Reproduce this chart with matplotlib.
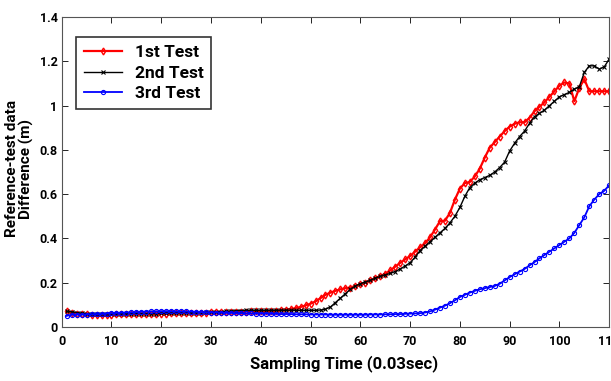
import matplotlib
matplotlib.use("Agg")
import matplotlib.pyplot as plt

plt.rcParams['font.family'] = ['Roboto', 'DejaVu Sans']

samples = list(range(1, 111))

test1 = [0.070,0.065,0.060,0.060,0.058,0.055,0.055,0.052,0.055,0.055,
 0.057,0.057,0.058,0.058,0.058,0.060,0.060,0.060,0.060,0.060,
 0.060,0.061,0.062,0.062,0.063,0.063,0.064,0.065,0.065,0.066,
 0.066,0.067,0.067,0.068,0.068,0.069,0.069,0.070,0.070,0.071,
 0.072,0.073,0.074,0.076,0.078,0.080,0.085,0.090,0.097,0.105,
 0.115,0.130,0.145,0.155,0.163,0.170,0.175,0.178,0.185,0.192,
 0.200,0.210,0.220,0.230,0.240,0.255,0.272,0.289,0.305,0.320,
 0.340,0.360,0.378,0.405,0.440,0.478,0.480,0.515,0.575,0.625,
 0.650,0.655,0.680,0.715,0.765,0.810,0.835,0.860,0.885,0.905,
 0.918,0.925,0.925,0.945,0.975,0.995,1.015,1.040,1.065,1.090,
 1.105,1.100,1.020,1.080,1.120,1.065,1.065,1.065,1.065,1.065]

test2 = [0.070,0.068,0.065,0.062,0.060,0.060,0.060,0.060,0.060,0.060,
 0.060,0.060,0.060,0.060,0.060,0.060,0.060,0.060,0.060,0.061,
 0.062,0.062,0.063,0.063,0.064,0.064,0.065,0.065,0.066,0.066,
 0.068,0.069,0.070,0.072,0.073,0.074,0.075,0.075,0.075,0.075,
 0.075,0.075,0.075,0.075,0.075,0.075,0.075,0.075,0.075,0.075,
 0.075,0.076,0.080,0.090,0.110,0.130,0.150,0.170,0.185,0.195,
 0.203,0.210,0.220,0.228,0.235,0.242,0.250,0.262,0.275,0.290,
 0.315,0.345,0.365,0.385,0.405,0.425,0.445,0.470,0.500,0.540,
 0.590,0.630,0.650,0.665,0.675,0.685,0.700,0.720,0.745,0.795,
 0.830,0.860,0.885,0.920,0.950,0.965,0.980,1.000,1.020,1.040,
 1.050,1.060,1.075,1.085,1.150,1.180,1.180,1.165,1.175,1.210]

test3 = [0.050,0.055,0.055,0.055,0.056,0.057,0.058,0.058,0.060,0.062,
 0.063,0.064,0.065,0.066,0.067,0.068,0.069,0.070,0.070,0.071,
 0.071,0.071,0.070,0.070,0.070,0.069,0.068,0.067,0.066,0.065,
 0.065,0.064,0.063,0.063,0.062,0.062,0.061,0.061,0.060,0.060,
 0.060,0.059,0.059,0.058,0.058,0.058,0.057,0.057,0.057,0.056,
 0.056,0.056,0.056,0.055,0.055,0.055,0.055,0.055,0.055,0.055,
 0.055,0.056,0.056,0.056,0.057,0.057,0.058,0.058,0.059,0.060,
 0.061,0.062,0.065,0.070,0.078,0.087,0.096,0.107,0.120,0.135,
 0.145,0.155,0.163,0.170,0.175,0.180,0.185,0.195,0.210,0.225,
 0.238,0.250,0.262,0.278,0.293,0.310,0.325,0.340,0.355,0.370,
 0.385,0.400,0.425,0.460,0.495,0.545,0.575,0.600,0.615,0.640]

labels = ['1st Test', '2nd Test', '3rd Test']
xticks = list(range(0, 111, 10))
yticks = [0, 0.2, 0.4, 0.6, 0.8, 1.0, 1.2, 1.4]
ytick_labels = ['0', '0.2', '0.4', '0.6', '0.8', '1', '1.2', '1.4']

fig = plt.figure(figsize=(6.11, 3.81), dpi=100)
ax = fig.add_axes([0.101, 0.142, 0.896, 0.813])

ax.plot(samples, test1, color='red', lw=1.6, marker='d', ms=3.5, mfc='none', mew=1.0, label=labels[0])
ax.plot(samples, test2, color='black', lw=1.0, marker='x', ms=2.5, mew=0.8, label=labels[1])
ax.plot(samples, test3, color='blue', lw=1.3, marker='o', ms=3.0, mfc='none', mew=0.8, label=labels[2])

ax.set_xlim(0, 110)
ax.set_ylim(0, 1.4)
ax.set_xticks(xticks)
ax.set_yticks(yticks)
ax.set_yticklabels(ytick_labels)
ax.tick_params(direction='in', top=True, right=True, length=4, labelsize=9, width=0.6, colors='black')
ax.tick_params(axis='y', pad=3)
ax.tick_params(axis='x', pad=6)
for lab in ax.get_xticklabels() + ax.get_yticklabels():
    lab.set_fontweight('bold')
for s in ax.spines.values():
    s.set_linewidth(0.8)
    s.set_color('#555555')

ax.set_xlabel('Sampling Time (0.03sec)', fontsize=12, fontweight='bold')
ax.xaxis.set_label_coords(0.515, -0.092)
ax.set_ylabel('Reference-test data\nDifference (m)', fontsize=11, fontweight='bold', linespacing=1.05)
ax.yaxis.set_label_coords(-0.05, 0.51)

leg = ax.legend(loc='upper left', bbox_to_anchor=(0.027, 0.935), borderaxespad=0, fontsize=12.5,
                frameon=True, fancybox=False, edgecolor='black', handlelength=2.2,
                borderpad=0.45, labelspacing=0.3, handletextpad=0.7)
leg.get_frame().set_linewidth(1.2)
for t in leg.get_texts():
    t.set_fontweight('bold')

fig.savefig('out.png', dpi=100)
